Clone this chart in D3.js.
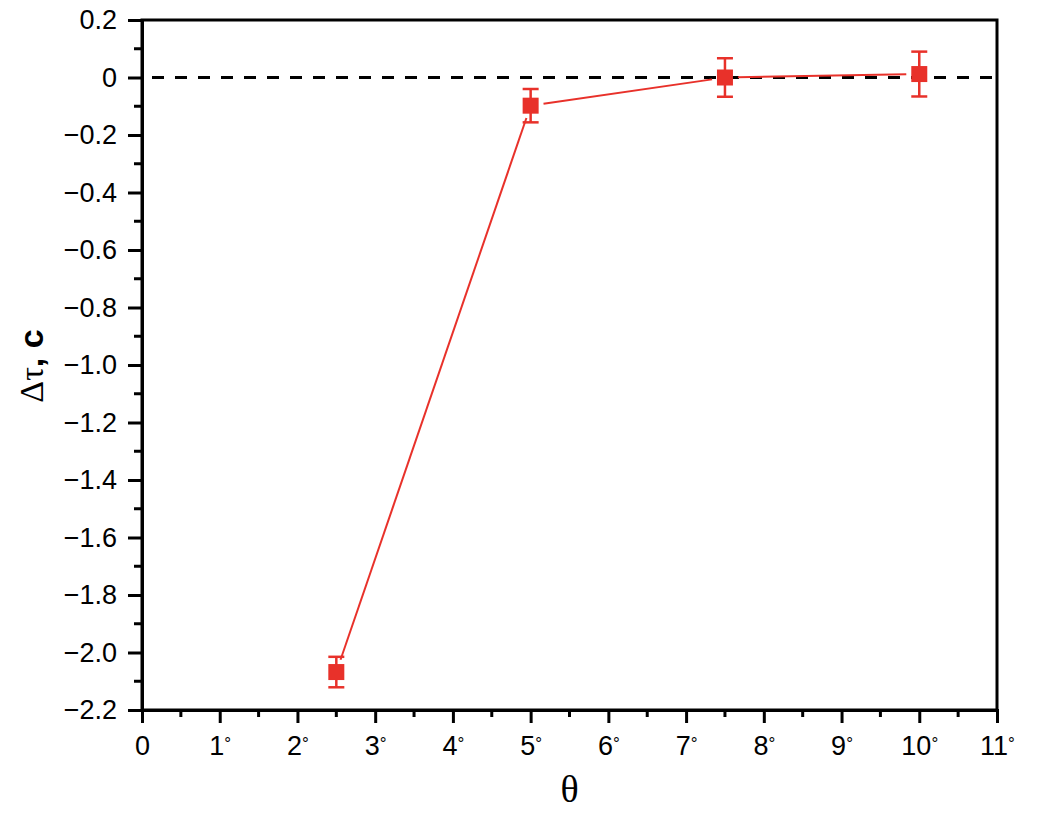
<!DOCTYPE html>
<html><head><meta charset="utf-8">
<script src="https://cdn.jsdelivr.net/npm/d3@7"></script>
<style>body{margin:0;background:#fff}svg{display:block}</style>
</head><body>
<script>
const thetaValues = [2.5, 5, 7.5, 10];
const deltaTau = [-2.068, -0.098, 0.0, 0.012];
const errorBars = [0.053, 0.058, 0.067, 0.078];
const xTicks = [0,1,2,3,4,5,6,7,8,9,10,11];
const xTickLabels = ["0","1","2","3","4","5","6","7","8","9","10","11"];
const yTicks = [0.2,0,-0.2,-0.4,-0.6,-0.8,-1.0,-1.2,-1.4,-1.6,-1.8,-2.0,-2.2];
const yTickLabels = ["0.2","0","\u22120.2","\u22120.4","\u22120.6","\u22120.8","\u22121.0","\u22121.2","\u22121.4","\u22121.6","\u22121.8","\u22122.0","\u22122.2"];

const W = 1038, H = 825;
const m = {l: 142, r: 1038-997, t: 20, b: 825-710};
const svg = d3.select("body").append("svg").attr("width", W).attr("height", H);
const x = d3.scaleLinear().domain([0, 11]).range([m.l, W - m.r]);
const y = d3.scaleLinear().domain([-2.2, 0.2]).range([H - m.b, m.t]);
const red = "#e8312a";
const font = "'Liberation Sans', Arial, sans-serif";

// zero dashed line
svg.append("line").attr("x1", x(0)).attr("x2", x(11)).attr("y1", y(0)).attr("y2", y(0))
  .attr("stroke", "#000").attr("stroke-width", 3).attr("stroke-dasharray", "12,11").attr("stroke-dashoffset", -10);

// frame
svg.append("rect").attr("x", x(0)).attr("y", y(0.2)).attr("width", x(11)-x(0)).attr("height", y(-2.2)-y(0.2))
  .attr("fill", "none").attr("stroke", "#000").attr("stroke-width", 3);

// x axis
const xMinor = d3.range(0.5, 11, 1);
const xAxis = d3.axisBottom(x).tickValues(xTicks).tickFormat((d,i) => xTickLabels[i]).tickSize(13).tickPadding(13);
const gx = svg.append("g").attr("transform", `translate(0,${y(-2.2)})`).call(xAxis);
gx.selectAll(".tick line").attr("stroke-width", 3);
gx.select(".domain").attr("stroke-width", 3);
gx.selectAll("text").attr("font-family", font).attr("font-size", 27).attr("fill", "#000");
gx.selectAll(".tick text").filter((d,i) => i > 0).append("tspan").attr("font-size", 17).attr("dy", "-0.35em").text("°");
gx.selectAll(".minor").data(xMinor).enter().append("line").attr("class","minor")
  .attr("x1", d => x(d)).attr("x2", d => x(d)).attr("y1", 0).attr("y2", 7).attr("stroke", "#000").attr("stroke-width", 3);

// y axis
const yMinor = d3.range(-2.1, 0.2, 0.2);
const yAxis = d3.axisLeft(y).tickValues(yTicks).tickFormat((d,i) => yTickLabels[i]).tickSize(14).tickPadding(11);
const gy = svg.append("g").attr("transform", `translate(${x(0)},0)`).call(yAxis);
gy.selectAll(".tick line").attr("stroke-width", 3);
gy.select(".domain").attr("stroke-width", 3);
gy.selectAll("text").attr("font-family", font).attr("font-size", 27).attr("fill", "#000");
gy.selectAll(".minor").data(yMinor).enter().append("line").attr("class","minor")
  .attr("y1", d => y(d)).attr("y2", d => y(d)).attr("x1", 0).attr("x2", -8).attr("stroke", "#000").attr("stroke-width", 3);

// connecting line segments with gaps
const pts = thetaValues.map((t,i) => [x(t), y(deltaTau[i])]);
const gap = 13;
for (let i = 0; i < pts.length - 1; i++) {
  const [x1,y1] = pts[i], [x2,y2] = pts[i+1];
  const L = Math.hypot(x2-x1, y2-y1), ux = (x2-x1)/L, uy = (y2-y1)/L;
  svg.append("line").attr("x1", x1+ux*gap).attr("y1", y1+uy*gap).attr("x2", x2-ux*gap).attr("y2", y2-uy*gap)
    .attr("stroke", red).attr("stroke-width", 2);
}

// error bars
const eg = svg.append("g");
thetaValues.forEach((t,i) => {
  const cx = x(t), yt = y(deltaTau[i]+errorBars[i]), yb = y(deltaTau[i]-errorBars[i]);
  eg.append("line").attr("x1", cx).attr("x2", cx).attr("y1", yt).attr("y2", yb).attr("stroke", red).attr("stroke-width", 2.5);
  [yt, yb].forEach(yy => eg.append("line").attr("x1", cx-8).attr("x2", cx+8).attr("y1", yy).attr("y2", yy).attr("stroke", red).attr("stroke-width", 2.5));
});

// markers
svg.selectAll(".pt").data(thetaValues).enter().append("rect").attr("class","pt")
  .attr("x", d => x(d)-8).attr("y", (d,i) => y(deltaTau[i])-8).attr("width", 16).attr("height", 16).attr("fill", red);

// axis titles
svg.append("text").attr("x", x(5.5)).attr("y", 802).attr("text-anchor", "middle")
  .attr("font-family", "'Liberation Serif', 'Times New Roman', serif").attr("font-size", 38).text("θ");
const yl = svg.append("text").attr("transform", "translate(43,366) rotate(-90)").attr("text-anchor", "middle")
  .attr("font-size", 34).attr("font-weight", "bold");
yl.append("tspan").attr("font-family", "'Liberation Serif', 'Times New Roman', serif").attr("font-weight", "normal").text("Δτ");
yl.append("tspan").attr("font-family", font).text(", c");
</script>
</body></html>
